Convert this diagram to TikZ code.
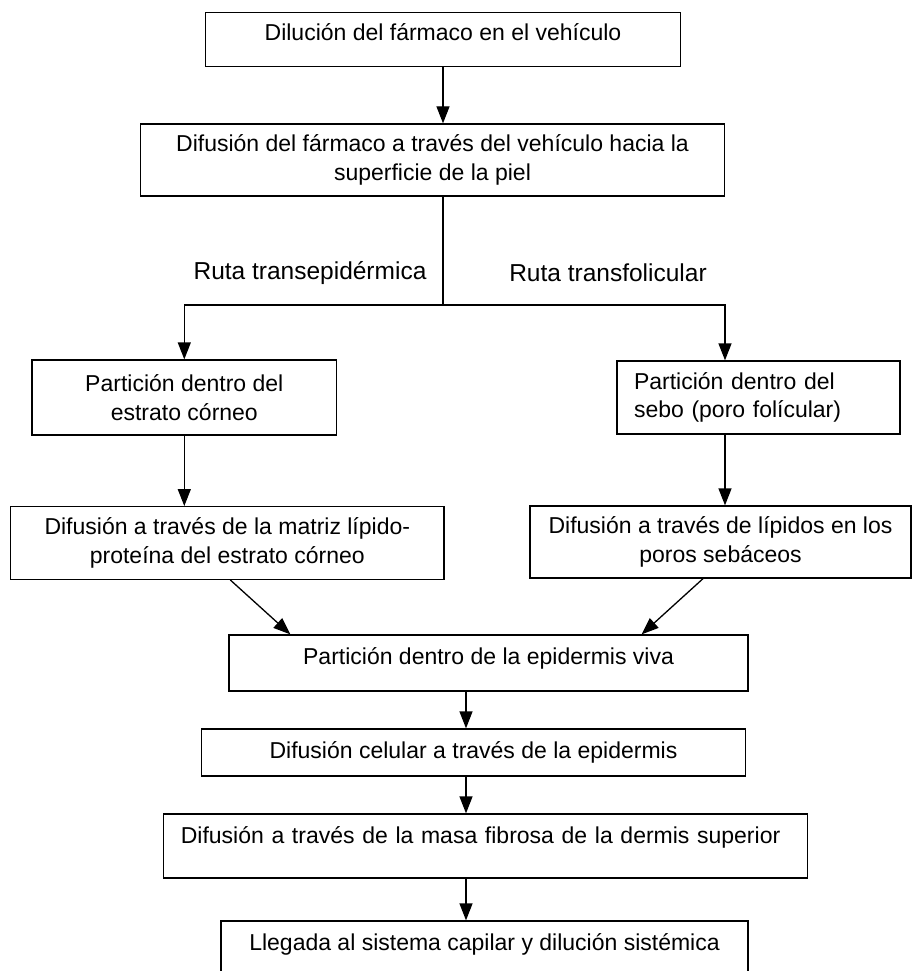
\documentclass[tikz,border=0pt]{standalone}
\usepackage{fontspec}
\setmainfont{Liberation Sans}
\usetikzlibrary{arrows.meta}

\begin{document}
\begin{tikzpicture}[x=1pt,y=-1pt,
    caja/.style={draw, line width=1.3pt, rectangle, inner sep=0pt, align=center, font=\fontsize{23}{28.5}\selectfont},
    ruta/.style={inner sep=0pt, font=\fontsize{24.5}{29}\selectfont},
    flecha/.style={line width=1.3pt, -{Triangle[width=13pt,length=17pt]}}]
        % Marco de la figura
        \useasboundingbox (0,0) rectangle (913,971);

        % Vehiculo
        \node[caja, minimum width=475pt, minimum height=54pt, text depth=14pt] (dilucion) at (443,39.5) {Dilución del fármaco en el vehículo};
        \node[caja, minimum width=584pt, minimum height=72pt] (superficie) at (432.5,160) {Difusión del fármaco a través del vehículo hacia la\\ superficie de la piel};

        % Rutas
        \node[ruta] (transepi) at (310,273) {Ruta transepidérmica};
        \node[ruta] (transfol) at (608,273) {Ruta transfolicular};
        \coordinate (bifurca) at (443,305);
        \coordinate (derecha) at (725,305);

        % Rama izquierda
        \node[caja, minimum width=304.6pt, minimum height=75pt] (corneo) at (184.3,397.5) {Partición dentro del\\ estrato córneo};
        \node[caja, minimum width=433.5pt, minimum height=72.6pt] (matriz) at (227.3,543) {Difusión a través de la matriz lípido-\\ proteína del estrato córneo};

        % Rama derecha
        \node[caja, align=left, text width=249pt, inner xsep=17pt, minimum height=73pt] (sebo) at (758.5,397.5) {Partición dentro del\\ sebo (poro folícular)};
        \node[caja, minimum width=381pt, minimum height=72pt] (poros) at (720.5,542) {Difusión a través de lípidos en los\\ poros sebáceos};

        % Capas profundas
        \node[caja, minimum width=519pt, minimum height=56pt, text depth=13pt] (viva) at (488.5,663) {Partición dentro de la epidermis viva};
        \node[caja, minimum width=544pt, minimum height=47pt] (celular) at (473.5,752.5) {Difusión celular a través de la epidermis};
        \node[caja, align=left, text width=610pt, inner xsep=17pt, minimum height=64pt, text depth=21pt] (dermis) at (485.8,846) {Difusión a través de la masa fibrosa de la dermis superior};
        \node[caja, minimum width=527pt, minimum height=59pt, text depth=17pt] (capilar) at (484.5,950.5) {Llegada al sistema capilar y dilución sistémica};
        \coordinate (eje) at (466,0);

        % Flechas
        \draw[flecha] (dilucion.south) -- (dilucion.south |- superficie.north);
        \draw[line width=1.3pt] (superficie.south -| bifurca) -- (bifurca);
        \draw[flecha] (bifurca) -| (corneo.north);
        \draw[flecha] (bifurca) -- (derecha) -- (derecha |- sebo.north);
        \draw[flecha] (corneo.south) -- (corneo.south |- matriz.north);
        \draw[flecha] (derecha |- sebo.south) -- (derecha |- poros.north);
        \draw[flecha] ([xshift=3pt]matriz.south) -- ([xshift=62pt]viva.north west);
        \draw[flecha] ([xshift=-17.5pt]poros.south) -- ([xshift=-107pt]viva.north east);
        \draw[flecha] (eje |- viva.south) -- (eje |- celular.north);
        \draw[flecha] (eje |- celular.south) -- (eje |- dermis.north);
        \draw[flecha] (eje |- dermis.south) -- (eje |- capilar.north);
\end{tikzpicture}
\end{document}
